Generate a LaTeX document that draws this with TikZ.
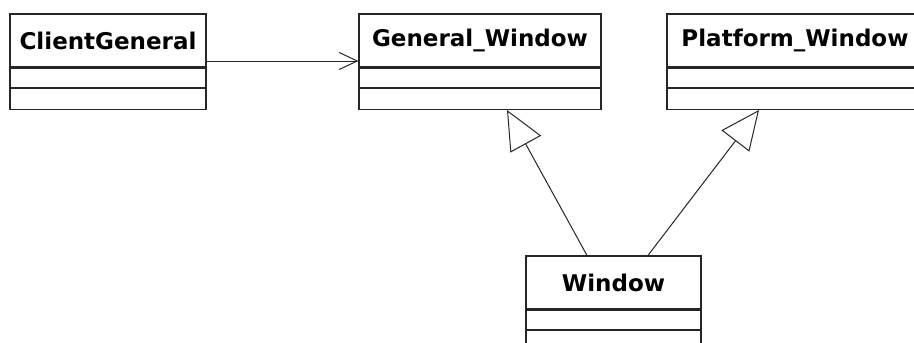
\documentclass[tikz,border=0pt]{standalone}
\usepackage{fontspec}
\setmainfont{DejaVu Sans}
\usetikzlibrary{arrows.meta}
\begin{document}
\begin{tikzpicture}[x=1pt,y=-1pt,
  namebox/.style={draw=black!85, line width=1.2pt, rectangle, inner sep=0pt,
    minimum height=53pt, font=\bfseries\fontsize{23}{24}\selectfont, text=black},
  compbox/.style={draw=black!85, line width=1.2pt, rectangle, inner sep=0pt},
  assoc/.style={draw=black!85, line width=1pt, -{Straight Barb[length=18pt, width=17pt, line width=1pt]}},
  gen/.style={draw=black!85, line width=1pt, -{Triangle[open, fill=white, length=39pt, width=35pt, line width=1pt]}}
]
\useasboundingbox (0,0) rectangle (914,343);
\clip (0,0) rectangle (914,343);
% ClientGeneral
\node[namebox, minimum width=196pt] (cg) at (108,40.5) {ClientGeneral};
\node[compbox, minimum width=196pt, minimum height=19pt, anchor=north] (cg1) at (cg.south) {};
\node[compbox, minimum width=196pt, minimum height=21pt, anchor=north] (cg2) at (cg1.south) {};
% General_Window
\node[namebox, minimum width=242pt] (gw) at (480,40.5) {General\_Window};
\node[compbox, minimum width=242pt, minimum height=19pt, anchor=north] (gw1) at (gw.south) {};
\node[compbox, minimum width=242pt, minimum height=21pt, anchor=north] (gw2) at (gw1.south) {};
% Platform_Window
\node[namebox, minimum width=256pt] (pw) at (795,40.5) {Platform\_Window};
\node[compbox, minimum width=256pt, minimum height=19pt, anchor=north] (pw1) at (pw.south) {};
\node[compbox, minimum width=256pt, minimum height=21pt, anchor=north] (pw2) at (pw1.south) {};
% Window
\node[namebox, minimum width=175pt] (w) at (613.5,282.5) {Window};
\node[compbox, minimum width=175pt, minimum height=19pt, anchor=north] (w1) at (w.south) {};
\node[compbox, minimum width=175pt, minimum height=21pt, anchor=north] (w2) at (w1.south) {};
% connectors
\draw[assoc] (cg.east |- 0,61) -- (gw.west |- 0,61);
\draw[gen] (w.north -| 587,0) -- (gw2.south -| 507,0);
\draw[gen] (w.north -| 648,0) -- (pw2.south -| 759,0);
\end{tikzpicture}
\end{document}
